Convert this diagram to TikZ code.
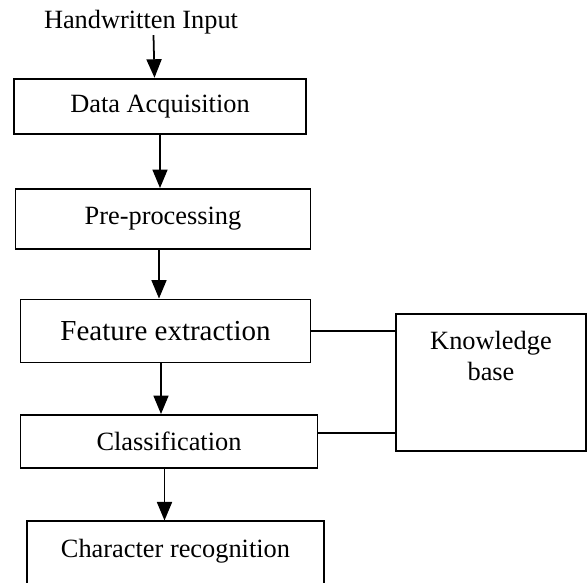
\documentclass[tikz,border=0pt]{standalone}
\usepackage{fontspec}
\setmainfont{Liberation Serif}
\usetikzlibrary{arrows.meta}

\begin{document}
\begin{tikzpicture}[
  stage/.style={draw, line width=1.1pt, inner sep=0pt, font=\fontsize{15}{17.6}\selectfont},
  arr/.style={line width=1pt, -{Triangle[length=0.37cm,width=0.3cm]}},
  link/.style={line width=0.7pt}
]
\clip (0,0) rectangle (11.74,11.66);
%\draw[step=0.5cm,gray,very thin] (0,0) grid (11.74,11.66); %background grid

\node[font=\fontsize{15}{17.6}\selectfont] (hw) at (2.82,11.22) {Handwritten Input};

%---------------------------------------------------
\node[stage, minimum width=5.83cm, minimum height=1.11cm] (da) at (3.20,9.53) {Data Acquisition};
\node[stage, minimum width=5.90cm, minimum height=1.20cm] (pp) at (3.26,7.28) {Pre-processing};
\node[stage, minimum width=5.80cm, minimum height=1.26cm, font=\fontsize{16.5}{19.8}\selectfont] (fe) at (3.31,5.04) {Feature extraction};
\node[stage, minimum width=5.94cm, minimum height=1.06cm] (cl) at (3.38,2.83) {Classification};
\node[stage, anchor=north, minimum width=5.94cm, text height=0.73cm, text depth=0.9cm] (cr) at (3.51,1.25) {Character recognition};

%---------------------------------------------------
\node[stage, minimum width=3.81cm, text height=0.714cm, text depth=2.016cm] (kb) at (9.82,4.01) {\begin{tabular}[t]{@{}c@{}}Knowledge\\base\end{tabular}};

%---------------------------------------------------
\draw[arr] ([xshift=0.25cm,yshift=0.1cm]hw.south) -- ([xshift=-0.11cm]da.north);
\draw[arr] (da.south) -- (da.south |- pp.north);
\draw[arr] ([xshift=-0.08cm]pp.south) -- ([xshift=-0.08cm]pp.south |- fe.north);
\draw[arr] ([xshift=-0.09cm]fe.south) -- ([xshift=-0.09cm]fe.south |- cl.north);
\draw[arr] ([xshift=-0.09cm]cl.south) -- ([xshift=-0.09cm]cl.south |- cr.north);

\draw[link] (fe.east) -- (fe.east -| kb.west);
\draw[link] ([yshift=0.17cm]cl.east) -- ([yshift=0.17cm]cl.east -| kb.west);

\end{tikzpicture}
\end{document}
